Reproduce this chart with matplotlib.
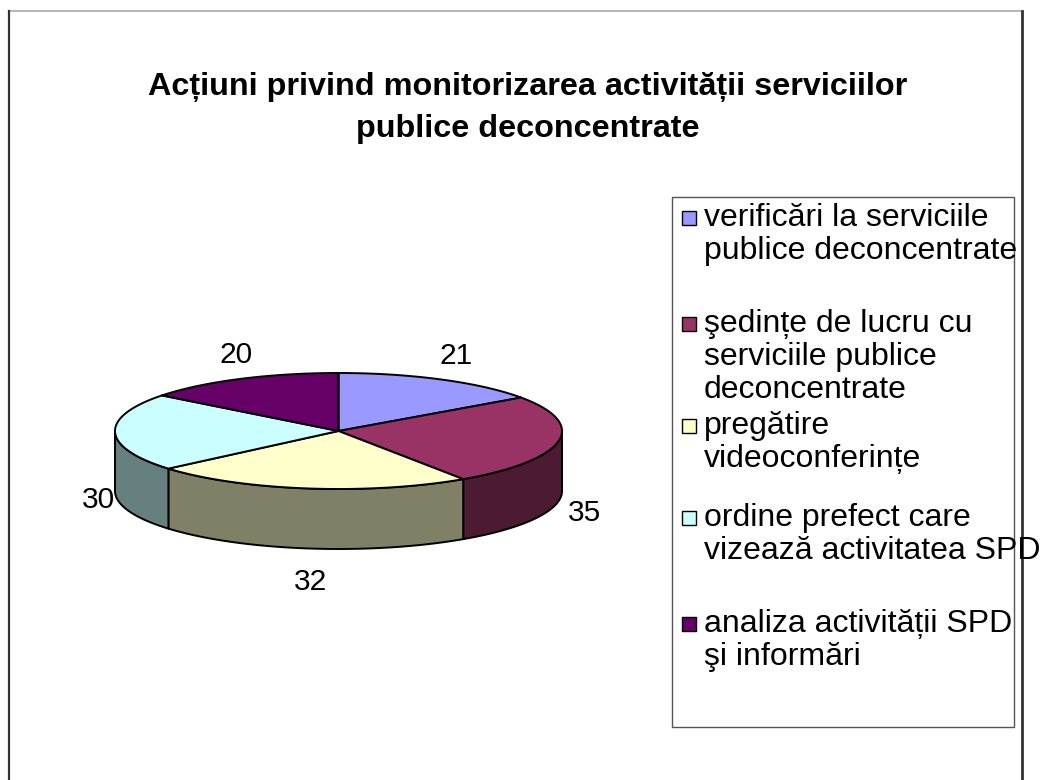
import numpy as np
import matplotlib
matplotlib.use("Agg")
import matplotlib.pyplot as plt
from matplotlib.patches import Polygon, Rectangle

# ----- data -----
title_lines = ["Acțiuni privind monitorizarea activității serviciilor",
               "publice deconcentrate"]
labels = ["verificări la serviciile\npublice deconcentrate",
          "şedințe de lucru cu\nserviciile publice\ndeconcentrate",
          "pregătire\nvideoconferințe",
          "ordine prefect care\nvizează activitatea SPD",
          "analiza activității SPD\nşi informări"]
values = [21, 35, 32, 30, 20]
colors = ["#9999FF", "#993366", "#FFFFCC", "#CCFFFF", "#660066"]

plt.rcParams['font.family'] = ['Liberation Sans', 'DejaVu Sans']

fig = plt.figure(figsize=(10.42, 7.80), dpi=100)
ax = fig.add_axes([0, 0, 1, 1])
ax.set_xlim(0, 1042)
ax.set_ylim(780, 0)
ax.axis('off')

# outer chart frame
ax.plot([9, 1021.5], [11, 11], color="#aaaaaa", lw=1.2)
ax.plot([9, 9], [11, 780], color="#333333", lw=1.6)
ax.plot([1021.5, 1021.5], [11, 780], color="#333333", lw=2)

# title
ax.text(528, 87, title_lines[0], ha='center', va='center',
        fontsize=23.3, fontweight='bold')
ax.text(528, 129, title_lines[1], ha='center', va='center',
        fontsize=23.3, fontweight='bold')

# 3d pie geometry (pixels)
cx, cy, a, b, depth = 338.5, 431, 223.5, 58, 60

def dark(c):
    r, g, bl = matplotlib.colors.to_rgb(c)
    return (r * 0.5, g * 0.5, bl * 0.5)

def ell(t, dy=0):
    return cx + a * np.sin(t), cy - b * np.cos(t) + dy

total = sum(values)
bounds = np.concatenate([[0], np.cumsum(values)]) / total * 2 * np.pi

# side walls on the front half
for i, c in enumerate(colors):
    s = max(bounds[i], np.pi / 2)
    e = min(bounds[i + 1], 3 * np.pi / 2)
    if e <= s:
        continue
    t = np.linspace(s, e, 80)
    xt, yt = ell(t)
    xb, yb = ell(t[::-1], depth)
    pts = np.column_stack([np.concatenate([xt, xb]), np.concatenate([yt, yb])])
    ax.add_patch(Polygon(pts, closed=True, facecolor=dark(c),
                         edgecolor='black', lw=1.4, joinstyle='round'))

# top wedges
for i, c in enumerate(colors):
    t = np.linspace(bounds[i], bounds[i + 1], 100)
    xt, yt = ell(t)
    pts = np.column_stack([np.concatenate([[cx], xt]), np.concatenate([[cy], yt])])
    ax.add_patch(Polygon(pts, closed=True, facecolor=c,
                         edgecolor='black', lw=1.4, joinstyle='round'))

# value labels
for i, v in enumerate(values):
    tm = (bounds[i] + bounds[i + 1]) / 2
    lx = cx + 5 + 245 * np.sin(tm)
    ly = cy - 85 * np.cos(tm) + (67 if np.cos(tm) < 0 else 0)
    ax.text(lx, ly, str(v), ha='center', va='center', fontsize=21.5)

# legend
ax.add_patch(Rectangle((672, 197), 342, 530, facecolor='none',
                       edgecolor='#555555', lw=1.0))
first_line_y = [218, 324, 426, 518, 624]
line_gap = 33
for i, (lab, c) in enumerate(zip(labels, colors)):
    y0 = first_line_y[i]
    ax.add_patch(Rectangle((682, y0 - 7), 14, 14, facecolor=c,
                           edgecolor='black', lw=1.0))
    for k, line in enumerate(lab.split("\n")):
        ax.text(704, y0 + k * line_gap, line, ha='left', va='center',
                fontsize=23)

fig.savefig("out.png", dpi=100)
